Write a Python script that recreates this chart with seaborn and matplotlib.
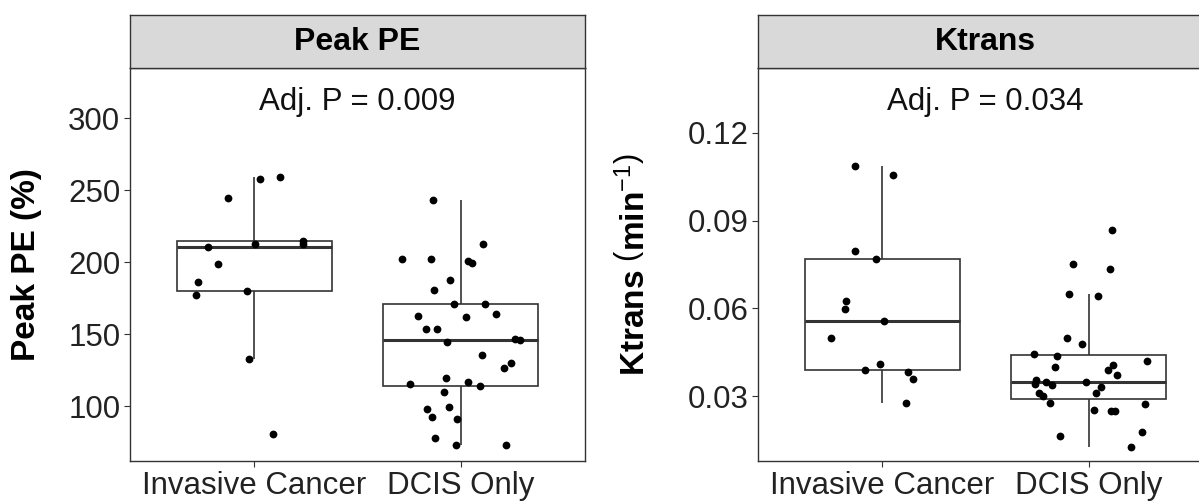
import numpy as np
import pandas as pd
import matplotlib
matplotlib.use("Agg")
import matplotlib.pyplot as plt
import seaborn as sns

# ---------------- data ----------------
groups = ["Invasive Cancer", "DCIS Only"]

peak_pe_invasive = [257.6, 259, 245, 213, 214.5, 213, 211, 198.6, 186, 180, 177, 133, 81]
peak_pe_dcis = [243, 212.5, 199.3, 202, 200.7, 202, 188, 181, 171, 171, 163, 162, 164,
                154, 154, 144.4, 147, 146, 135.4, 130, 126.4, 120, 115.3, 114, 116.7,
                110, 98, 99.3, 91, 92.4, 78, 73, 73]

ktrans_invasive = [0.1055, 0.1086, 0.0795, 0.0768, 0.0627, 0.0597, 0.0559, 0.0501,
                   0.0412, 0.0391, 0.0385, 0.0361, 0.0278]
ktrans_dcis = [0.0867, 0.0751, 0.0733, 0.0648, 0.0641, 0.0501, 0.0480, 0.0446, 0.0439,
               0.0422, 0.0401, 0.0408, 0.0391, 0.0374, 0.0350, 0.0333, 0.0343, 0.0357,
               0.0340, 0.0350, 0.0313, 0.0302, 0.0313, 0.0278, 0.0275, 0.0251, 0.0254,
               0.0251, 0.0165, 0.0179, 0.0128]

panel_titles = ["Peak PE", "Ktrans"]
p_labels = ["Adj. P = 0.009", "Adj. P = 0.034"]
peak_ticks = [100, 150, 200, 250, 300]
ktrans_ticks = [0.03, 0.06, 0.09, 0.12]
ktrans_ticklabels = ["0.03", "0.06", "0.09", "0.12"]

df_peak = pd.DataFrame({
    "group": [groups[0]] * len(peak_pe_invasive) + [groups[1]] * len(peak_pe_dcis),
    "value": peak_pe_invasive + peak_pe_dcis,
})
df_kt = pd.DataFrame({
    "group": [groups[0]] * len(ktrans_invasive) + [groups[1]] * len(ktrans_dcis),
    "value": ktrans_invasive + ktrans_dcis,
})

# ---------------- style ----------------
sns.set_theme(style="white")
plt.rcParams["font.family"] = ["Liberation Sans", "DejaVu Sans"]
plt.rcParams["mathtext.fontset"] = "custom"
plt.rcParams["mathtext.rm"] = "Liberation Sans"
plt.rcParams["mathtext.bf"] = "Liberation Sans:bold"
plt.rcParams["mathtext.it"] = "Liberation Sans:italic"

W, H = 1199, 504
fig = plt.figure(figsize=(W / 100, H / 100), dpi=100)
fig.patch.set_facecolor("white")

edge = "#333333"
tick_fs = 22.5
np.random.seed(3)


def px_axes(x0, y0, x1, y1):
    return fig.add_axes([x0 / W, (H - y1) / H, (x1 - x0) / W, (y1 - y0) / H])


def draw_panel(df, x0, x1, title, plabel, ylim, ticks, ticklabels, ylabel, label_x):
    ax = px_axes(x0, 68, x1, 461)
    sns.boxplot(data=df, x="group", y="value", order=groups, ax=ax,
                width=0.75, color="white", linecolor=edge, linewidth=1.2,
                showfliers=False, showcaps=False, whis=1.5,
                medianprops={"linewidth": 2.2, "color": edge})
    sns.stripplot(data=df, x="group", y="value", order=groups, ax=ax,
                  color="black", size=5.6, jitter=0.3, linewidth=0, zorder=3)
    ax.set_xlim(-0.6, 1.6)
    ax.set_ylim(*ylim)
    ax.set_yticks(ticks)
    ax.set_yticklabels(ticklabels)
    ax.set_xlabel("")
    ax.set_ylabel(ylabel, fontsize=24, fontweight="bold", color="black")
    ax.yaxis.set_label_coords(label_x, 0.5)
    ax.tick_params(axis="both", direction="out", length=4, width=0.8, color=edge,
                   labelsize=tick_fs, labelcolor="#222222", pad=3,
                   bottom=True, left=True)
    for s in ax.spines.values():
        s.set_color(edge)
        s.set_linewidth(1.0)
    ax.grid(False)
    ax.text(0.5, 0.913, plabel, transform=ax.transAxes, ha="center", va="center",
            fontsize=22.5, color="#111111")

    st = px_axes(x0, 15, x1, 68)
    st.set_facecolor("#D9D9D9")
    st.set_xticks([])
    st.set_yticks([])
    for s in st.spines.values():
        s.set_color(edge)
        s.set_linewidth(1.0)
    st.text(0.5, 0.5, title, transform=st.transAxes, ha="center", va="center",
            fontsize=23, fontweight="bold", color="black")
    return ax


draw_panel(df_peak, 130, 585, panel_titles[0], p_labels[0], (62, 335),
           peak_ticks, [str(t) for t in peak_ticks], "Peak PE (%)", -0.194)
draw_panel(df_kt, 758, 1213, panel_titles[1], p_labels[1], (0.008, 0.142),
           ktrans_ticks, ktrans_ticklabels,
           r"$\mathbf{Ktrans}\ \left(\mathbf{min}^{-1}\right)$", -0.236)

fig.savefig("out.png", dpi=100, facecolor="white")
